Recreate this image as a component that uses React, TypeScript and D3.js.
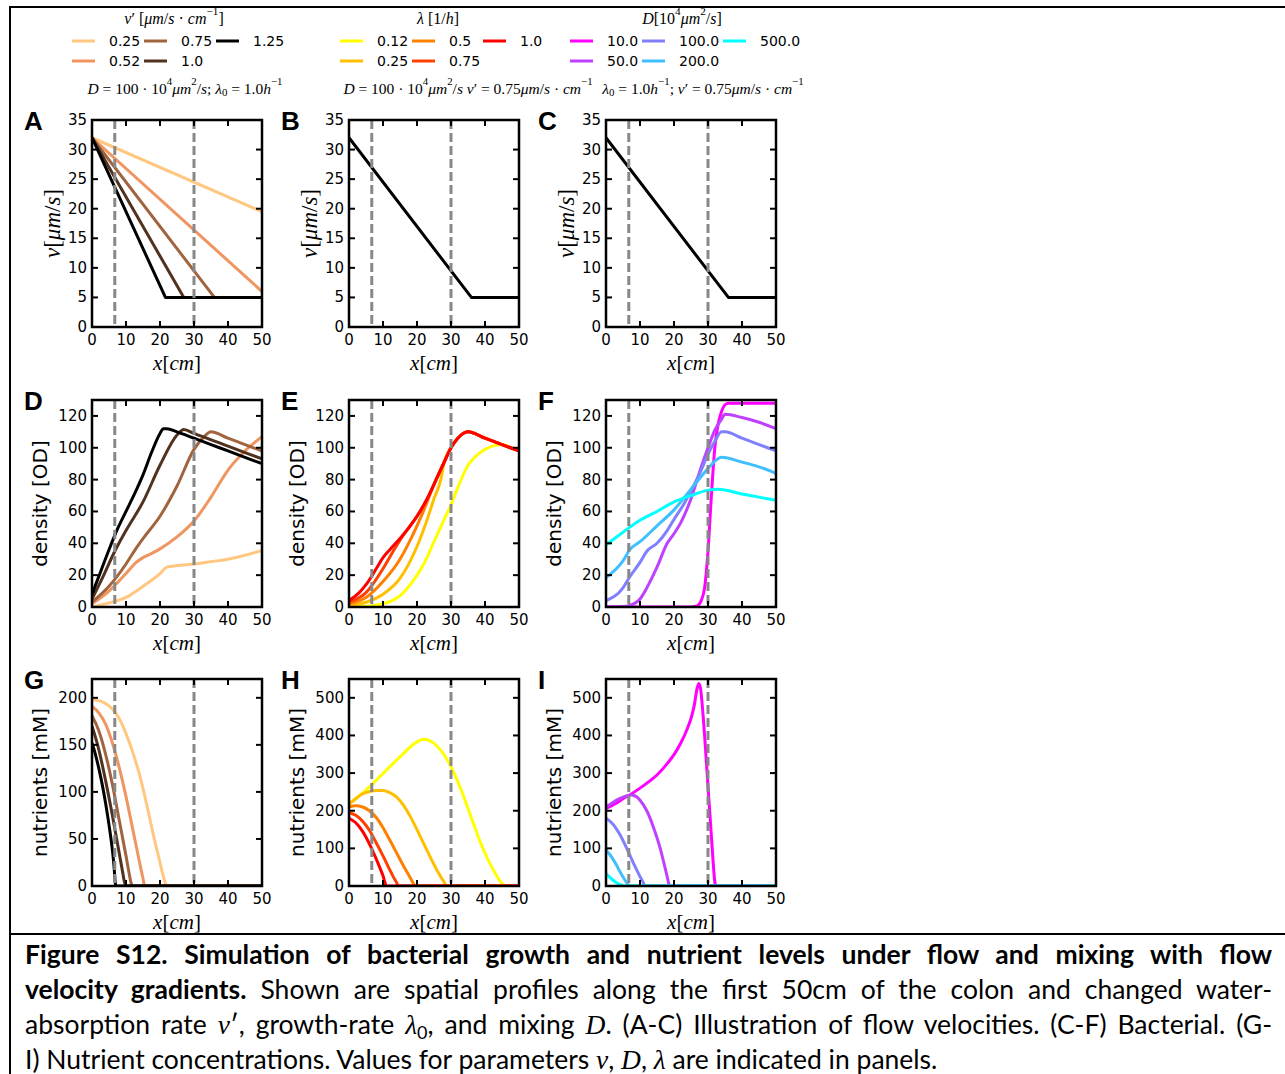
import React, { useLayoutEffect, useRef } from "react";
import * as d3 from "d3";

type Pt = [number, number];

// ---------- axis ticks ----------
const xTicks = [0, 10, 20, 30, 40, 50];
const markerX = [6.7, 30];
const velocityTicks = [0, 5, 10, 15, 20, 25, 30, 35];
const densityTicks = [0, 20, 40, 60, 80, 100, 120];
const nutrientTicksG = [0, 50, 100, 150, 200];
const nutrientTicksHI = [0, 100, 200, 300, 400, 500];

// ---------- legend categories ----------
const vPrimeLabels = ["0.25", "0.52", "0.75", "1.0", "1.25"];
const lambdaLabels = ["0.12", "0.25", "0.5", "0.75", "1.0"];
const mixingLabels = ["10.0", "50.0", "100.0", "200.0", "500.0"];

const vPrimeColors = ["#ffc77f", "#ef9560", "#a0643f", "#50321f", "#000000"];
const lambdaColors = ["#ffff00", "#ffbf00", "#ff8000", "#ff4000", "#ff0000"];
const mixingColors = ["#ff00ff", "#bf40ff", "#8080ff", "#40bfff", "#00ffff"];

// ---------- flow velocity v(x) ----------
const velocityA: Pt[][] = [
  [[0, 32], [50, 19.5]],
  [[0, 32], [50, 6]],
  [[0, 32], [36, 5], [50, 5]],
  [[0, 32], [27, 5], [50, 5]],
  [[0, 32], [21.6, 5], [50, 5]],
];
const velocityB: Pt[][] = [[[0, 32], [36, 5], [50, 5]]];
const velocityC: Pt[][] = [[[0, 32], [36, 5], [50, 5]]];

// ---------- bacterial density ----------
const densityD: Pt[][] = [
  [[0, 0], [5, 2.5], [10, 6], [15, 13], [20, 21], [22, 25], [25, 26], [30, 27], [35, 28.5], [40, 30], [45, 32.5], [50, 35.5]],
  [[0, 2], [5, 10], [10, 21], [13, 28], [15, 31], [17, 33], [20, 36.5], [25, 44], [30, 54], [35, 69], [40, 86], [45, 98], [50, 107]],
  [[0, 3], [5, 13], [10, 27], [13, 37], [15, 43], [20, 57], [25, 76], [30, 99], [33, 107], [35, 110], [40, 106], [45, 102], [50, 98]],
  [[0, 5], [3, 18], [6.7, 35], [10, 48], [15, 66], [20, 89], [25, 108], [27, 111.5], [30, 109], [40, 101], [50, 93]],
  [[0, 8], [2.5, 22], [5, 36], [7.5, 49], [10, 60], [12.5, 71], [15, 83], [17.5, 97], [20, 109], [21, 112], [22, 112], [25, 110], [30, 106], [35, 102], [40, 98], [45, 94], [50, 90]],
];
const densityE: Pt[][] = [
  [[0, 0], [5, 0.5], [10, 2], [15, 7], [20, 20], [22, 27], [25, 41], [28, 55], [30, 64], [32, 75], [35, 89], [38, 96], [40, 99], [43, 101.5], [45, 102], [48, 100], [50, 98.5]],
  [[0, 1], [5, 3], [10, 8], [15, 18], [20, 38], [23, 55], [25, 68], [27, 80], [28, 91], [30, 100], [32, 106], [34, 109.5], [35, 110], [40, 106], [45, 102], [50, 98]],
  [[0, 2], [5, 6], [10, 16], [15, 30], [18, 42], [20, 51], [23, 66], [25, 77], [28, 91], [30, 100], [32, 106], [34, 109.5], [35, 110], [40, 106], [45, 102], [50, 98]],
  [[0, 3], [5, 9], [10, 24], [13, 35], [15, 42], [18, 51], [20, 57], [23, 68], [25, 77], [28, 91], [30, 100], [32, 106], [34, 109.5], [35, 110], [40, 106], [45, 102], [50, 98]],
  [[0, 4], [3, 9], [5, 14], [8, 24], [10, 31], [12, 36], [15, 43], [18, 51], [20, 57], [23, 68], [25, 77], [28, 91], [30, 100], [32, 106], [34, 109.5], [35, 110], [40, 106], [45, 102], [50, 98]],
];
const densityF: Pt[][] = [
  [[0, 0], [10, 0], [20, 0], [25, 0], [26, 0.3], [27, 1], [28, 4], [29, 12], [30, 35], [31, 70], [32, 100], [33, 115], [34, 123], [35, 127], [36, 128], [40, 128], [50, 128]],
  [[0, 0], [5, 0.3], [7, 1], [10, 5], [12, 12], [15, 25], [18, 40], [20, 46], [22, 53], [25, 68], [28, 88], [30, 100], [32, 111], [34, 118], [35, 121], [40, 119], [45, 116], [50, 112]],
  [[0, 4], [5, 12], [7, 19], [10, 28], [12, 35], [15, 40], [18, 48], [20, 55], [23, 65], [25, 73], [28, 86], [30, 96], [32, 104], [34, 110], [35, 110], [40, 106], [45, 102], [50, 98]],
  [[0, 18.5], [5, 29], [7, 36], [10, 41], [15, 51], [20, 61], [25, 74], [28, 82], [30, 87], [34, 94], [40, 91], [45, 88], [50, 84]],
  [[0, 39], [5, 47], [10, 54.5], [15, 60], [20, 66], [25, 70], [30, 73.4], [33, 74], [40, 71], [45, 69], [50, 67]],
];

// ---------- nutrient concentration ----------
const nutrientsG: Pt[][] = [
  [[0, 198], [2, 197], [4, 194], [6, 188], [8, 178], [10, 162], [12, 142], [14, 118], [16, 88], [18, 55], [20, 25], [21, 10], [22, 0], [50, 0]],
  [[0, 191], [2, 184], [4, 172], [6, 152], [8, 126], [10, 95], [12, 60], [14, 25], [15, 8], [15.5, 0], [50, 0]],
  [[0, 181], [2, 165], [4, 140], [6, 108], [8, 70], [10, 32], [11, 12], [11.5, 3], [12, 0], [50, 0]],
  [[0, 170], [2, 145], [4, 112], [6, 75], [8, 35], [9, 15], [9.5, 5], [10, 0], [50, 0]],
  [[0, 152], [1, 140], [2, 125], [3, 108], [4, 88], [5, 65], [6, 38], [6.5, 20], [6.8, 5], [7, 0], [50, 0]],
];
const nutrientsH: Pt[][] = [
  [[0, 219], [5, 255], [10, 299], [15, 343], [20, 383], [22, 390], [25, 379], [28, 348], [30, 317], [33, 255], [35, 206], [38, 131], [40, 87], [43, 34], [45, 7], [46, 0], [50, 0]],
  [[0, 216], [2, 232], [4, 245], [6, 251], [8, 254], [10, 254], [12, 248], [14, 236], [16, 215], [18, 185], [20, 150], [22, 112], [24, 75], [26, 40], [28, 10], [28.7, 0], [50, 0]],
  [[0, 210], [2, 213], [4, 210], [6, 200], [8, 182], [10, 155], [12, 122], [14, 88], [16, 54], [18, 22], [19, 6], [19.4, 0], [50, 0]],
  [[0, 195], [2, 188], [4, 172], [6, 148], [8, 115], [10, 80], [12, 43], [13, 25], [14, 9], [14.5, 0], [50, 0]],
  [[0, 180], [2, 168], [4, 145], [6, 112], [8, 72], [9, 50], [10, 27], [10.5, 12], [11, 0], [50, 0]],
];
const nutrientsI: Pt[][] = [
  [[0, 206], [3, 220], [5, 232], [7, 242], [10, 260], [13, 280], [15, 295], [18, 325], [20, 349], [22, 380], [24, 420], [25, 445], [26, 482], [26.8, 525], [27.3, 538], [27.8, 525], [28.5, 460], [29, 400], [30, 265], [31, 132], [32, 12], [32.2, 0], [50, 0]],
  [[0, 210], [2, 222], [4, 232], [6, 239], [7.5, 242], [9, 237], [10, 228], [12, 200], [14, 155], [15, 128], [16, 98], [17, 62], [18, 25], [18.5, 5], [18.8, 0], [50, 0]],
  [[0, 180], [2, 165], [4, 138], [6, 102], [8, 62], [10, 25], [11, 8], [11.4, 0], [50, 0]],
  [[0, 95], [1, 85], [2, 72], [3, 57], [4, 40], [5, 24], [6, 10], [6.7, 2], [7, 0], [50, 0]],
  [[0, 33], [1, 24], [2, 16], [3, 9], [4, 4], [5, 1], [5.5, 0], [50, 0]],
];

// ---------- text helpers ----------
type Seg = { t: string; i?: boolean; b?: boolean; sup?: boolean; sub?: boolean };

function Segs({ segs, fs }: { segs: Seg[]; fs: number }) {
  let cur = 0;
  return (
    <>
      {segs.map((s, k) => {
        const target = s.sup ? -0.42 * fs : s.sub ? 0.25 * fs : 0;
        const dy = target - cur;
        cur = target;
        return (
          <tspan
            key={k}
            dy={dy}
            fontStyle={s.i ? "italic" : "normal"}
            fontWeight={s.b ? "bold" : "normal"}
            fontSize={s.sup || s.sub ? fs * 0.7 : fs}
          >
            {s.t}
          </tspan>
        );
      })}
    </>
  );
}

const MATH = "'Liberation Serif', 'DejaVu Serif', serif";
const SANS = "'DejaVu Sans', sans-serif";

const xLabelSegs: Seg[] = [{ t: "x", i: true }, { t: "[" }, { t: "cm", i: true }, { t: "]" }];
const vLabelSegs: Seg[] = [{ t: "v", i: true }, { t: "[" }, { t: "μm", i: true }, { t: "/" }, { t: "s", i: true }, { t: "]" }];

// ---------- panel ----------
const PW = 170;
const PH = 207;

type PanelProps = {
  id: string;
  left: number;
  top: number;
  letter: string;
  yMax: number;
  yTicks: number[];
  yLabel: "v" | "density" | "nutrients";
  series: Pt[][];
  colors: string[];
  smooth: boolean;
};

function Panel({ id, left, top, letter, yMax, yTicks, yLabel, series, colors, smooth }: PanelProps) {
  const x = d3.scaleLinear().domain([0, 50]).range([left, left + PW]);
  const y = d3.scaleLinear().domain([0, yMax]).range([top + PH, top]);
  const line = d3
    .line<Pt>()
    .x((d) => x(d[0]))
    .y((d) => y(d[1]))
    .curve(smooth ? d3.curveMonotoneX : d3.curveLinear);
  const bottom = top + PH;
  const right = left + PW;
  const tl = 6;
  const clipId = `clip-${id}`;
  return (
    <g>
      <defs>
        <clipPath id={clipId}>
          <rect x={left} y={top} width={PW} height={PH} />
        </clipPath>
      </defs>
      <g clipPath={`url(#${clipId})`}>
        {series.map((s, k) => (
          <path key={k} d={line(s) || ""} fill="none" stroke={colors[k]} strokeWidth={3} strokeLinejoin="round" />
        ))}
        {markerX.map((m) => (
          <line key={m} x1={x(m)} x2={x(m)} y1={top} y2={bottom} stroke="#888888" strokeWidth={3} strokeDasharray="9,4" />
        ))}
      </g>
      {/* ticks, inward on all four sides */}
      {xTicks.map((t) => (
        <g key={`xt${t}`}>
          <line x1={x(t)} x2={x(t)} y1={bottom} y2={bottom - tl} stroke="#000" strokeWidth={2} />
          <line x1={x(t)} x2={x(t)} y1={top} y2={top + tl} stroke="#000" strokeWidth={2} />
          <text x={x(t)} y={bottom + 13} textAnchor="middle" dominantBaseline="central" fontFamily={SANS} fontSize={15}>
            {t}
          </text>
        </g>
      ))}
      {yTicks.map((t) => (
        <g key={`yt${t}`}>
          <line x1={left} x2={left + tl} y1={y(t)} y2={y(t)} stroke="#000" strokeWidth={2} />
          <line x1={right} x2={right - tl} y1={y(t)} y2={y(t)} stroke="#000" strokeWidth={2} />
          <text x={left - 5} y={y(t)} textAnchor="end" dominantBaseline="central" fontFamily={SANS} fontSize={15}>
            {t}
          </text>
        </g>
      ))}
      <rect x={left} y={top} width={PW} height={PH} fill="none" stroke="#000" strokeWidth={2.5} />
      {/* axis labels */}
      <text x={(left + right) / 2} y={bottom + 43} textAnchor="middle" fontFamily={MATH} fontSize={21}>
        <Segs segs={xLabelSegs} fs={21} />
      </text>
      {yLabel === "v" ? (
        <text
          transform={`translate(${left - 40},${top + PH / 2}) rotate(-90)`}
          textAnchor="middle"
          dominantBaseline="central"
          fontFamily={MATH}
          fontSize={23}
        >
          <Segs segs={vLabelSegs} fs={23} />
        </text>
      ) : (
        <text
          transform={`translate(${left - 52},${top + PH / 2}) rotate(-90)`}
          textAnchor="middle"
          dominantBaseline="central"
          fontFamily={SANS}
          fontSize={20}
        >
          {yLabel === "density" ? "density [OD]" : "nutrients [mM]"}
        </text>
      )}
      <text x={left - 68} y={top + 10} fontFamily="'Liberation Sans', Arial, sans-serif" fontWeight="bold" fontSize={26}>
        {letter}
      </text>
    </g>
  );
}

// ---------- legends ----------
type LegendProps = {
  labels: string[];
  colors: string[];
  cols: number[];
  title: Seg[];
  titleX: number;
};

function Legend({ labels, colors, cols, title, titleX }: LegendProps) {
  const rows = [41, 61];
  return (
    <g>
      <text x={titleX} y={18} textAnchor="middle" dominantBaseline="central" fontFamily={MATH} fontSize={16}>
        <Segs segs={title} fs={16} />
      </text>
      {labels.map((lab, k) => {
        const cx = cols[Math.floor(k / 2)];
        const ry = rows[k % 2];
        return (
          <g key={lab}>
            <line x1={cx} x2={cx + 23} y1={ry} y2={ry} stroke={colors[k]} strokeWidth={3} />
            <text x={cx + 37} y={ry} dominantBaseline="central" fontFamily={SANS} fontSize={14}>
              {lab}
            </text>
          </g>
        );
      })}
    </g>
  );
}

const vPrimeTitle: Seg[] = [
  { t: "v", i: true }, { t: "′  [" }, { t: "μm", i: true }, { t: "/" }, { t: "s", i: true }, { t: " · " }, { t: "cm", i: true }, { t: "−1", sup: true }, { t: "]" },
];
const lambdaTitle: Seg[] = [{ t: "λ", i: true }, { t: "  [1/" }, { t: "h", i: true }, { t: "]" }];
const mixingTitle: Seg[] = [
  { t: "D", i: true }, { t: "[10" }, { t: "4", sup: true }, { t: "μm", i: true }, { t: "2", sup: true }, { t: "/" }, { t: "s", i: true }, { t: "]" },
];
const note1: Seg[] = [
  { t: "D", i: true }, { t: " = 100 · 10" }, { t: "4", sup: true }, { t: "μm", i: true }, { t: "2", sup: true }, { t: "/" }, { t: "s", i: true },
  { t: ";  " }, { t: "λ", i: true }, { t: "0", sub: true }, { t: " = 1.0" }, { t: "h", i: true }, { t: "−1", sup: true },
];
const note2: Seg[] = [
  { t: "D", i: true }, { t: " = 100 · 10" }, { t: "4", sup: true }, { t: "μm", i: true }, { t: "2", sup: true }, { t: "/" }, { t: "s", i: true },
  { t: " " }, { t: "v", i: true }, { t: "′ = 0.75" }, { t: "μm", i: true }, { t: "/" }, { t: "s", i: true }, { t: " · " }, { t: "cm", i: true }, { t: "−1", sup: true },
];
const note3: Seg[] = [
  { t: "λ", i: true }, { t: "0", sub: true }, { t: " = 1.0" }, { t: "h", i: true }, { t: "−1", sup: true }, { t: ";  " },
  { t: "v", i: true }, { t: "′ = 0.75" }, { t: "μm", i: true }, { t: "/" }, { t: "s", i: true }, { t: " · " }, { t: "cm", i: true }, { t: "−1", sup: true },
];

// ---------- caption ----------
const captionLines: Seg[][] = [
  [{ t: "Figure S12. Simulation of bacterial growth and nutrient levels under flow and mixing with flow", b: true }],
  [{ t: "velocity gradients.", b: true }, { t: " Shown are spatial profiles along the first 50cm of the colon and changed water-" }],
  [
    { t: "absorption rate " }, { t: "v", i: true }, { t: "′" }, { t: ", growth-rate " }, { t: "λ", i: true }, { t: "0", sub: true },
    { t: ", and mixing " }, { t: "D", i: true }, { t: ". (A-C) Illustration of flow velocities. (C-F) Bacterial. (G-" },
  ],
  [
    { t: "I) Nutrient concentrations. Values for parameters " }, { t: "v", i: true }, { t: ", " }, { t: "D", i: true }, { t: ", " },
    { t: "λ", i: true }, { t: " are indicated in panels." },
  ],
];

function Caption() {
  const refs = useRef<(SVGTextElement | null)[]>([]);
  const x0 = 25;
  const width = 1247;
  const fs = 26.5;
  const baselines = [964, 999, 1034, 1069];
  useLayoutEffect(() => {
    refs.current.forEach((el, k) => {
      if (!el || k === captionLines.length - 1) return;
      el.style.wordSpacing = "0px";
      const natural = el.getComputedTextLength();
      const spaces = (el.textContent || "").split(" ").length - 1;
      if (spaces > 0) el.style.wordSpacing = `${(width - natural) / spaces}px`;
    });
  }, []);
  return (
    <g>
      {captionLines.map((segs, k) => (
        <text
          key={k}
          ref={(el) => {
            refs.current[k] = el;
          }}
          x={x0}
          y={baselines[k]}
          fontFamily="Lato, 'Open Sans', sans-serif"
          fontSize={fs}
        >
          {segs.map((s, j) => (
            <tspan
              key={j}
              dy={s.sub ? 5 : j > 0 && segs[j - 1].sub ? -5 : 0}
              fontWeight={s.b ? "bold" : "normal"}
              fontStyle={s.i ? "italic" : "normal"}
              fontFamily={s.i ? MATH : undefined}
              fontSize={s.sub ? 18 : s.i ? fs + 1 : fs}
            >
              {s.t}
            </tspan>
          ))}
        </text>
      ))}
    </g>
  );
}

export default function App() {
  const lefts = [92, 349, 606];
  const tops = [120, 400, 679];
  return (
    <svg
      width={1285}
      height={1074}
      style={{ position: "absolute", left: 0, top: 0, background: "#fff" }}
    >
      <rect x={0} y={0} width={1285} height={1074} fill="#fff" />
      {/* frame lines */}
      <line x1={10} x2={1285} y1={7} y2={7} stroke="#000" strokeWidth={2} />
      <line x1={10} x2={10} y1={6} y2={1074} stroke="#000" strokeWidth={2} />
      <line x1={10} x2={1285} y1={934} y2={934} stroke="#000" strokeWidth={2} />

      <Legend labels={vPrimeLabels} colors={vPrimeColors} cols={[72, 144, 216]} title={vPrimeTitle} titleX={174} />
      <Legend labels={lambdaLabels} colors={lambdaColors} cols={[340, 412, 483]} title={lambdaTitle} titleX={438} />
      <Legend labels={mixingLabels} colors={mixingColors} cols={[570, 642, 723]} title={mixingTitle} titleX={682} />
      <text x={185} y={88} textAnchor="middle" dominantBaseline="central" fontFamily={MATH} fontSize={15.5}>
        <Segs segs={note1} fs={15.5} />
      </text>
      <text x={468} y={88} textAnchor="middle" dominantBaseline="central" fontFamily={MATH} fontSize={15.5}>
        <Segs segs={note2} fs={15.5} />
      </text>
      <text x={703} y={88} textAnchor="middle" dominantBaseline="central" fontFamily={MATH} fontSize={15.5}>
        <Segs segs={note3} fs={15.5} />
      </text>

      <Panel id="A" left={lefts[0]} top={tops[0]} letter="A" yMax={35} yTicks={velocityTicks} yLabel="v" series={velocityA} colors={vPrimeColors} smooth={false} />
      <Panel id="B" left={lefts[1]} top={tops[0]} letter="B" yMax={35} yTicks={velocityTicks} yLabel="v" series={velocityB} colors={["#000"]} smooth={false} />
      <Panel id="C" left={lefts[2]} top={tops[0]} letter="C" yMax={35} yTicks={velocityTicks} yLabel="v" series={velocityC} colors={["#000"]} smooth={false} />

      <Panel id="D" left={lefts[0]} top={tops[1]} letter="D" yMax={130} yTicks={densityTicks} yLabel="density" series={densityD} colors={vPrimeColors} smooth />
      <Panel id="E" left={lefts[1]} top={tops[1]} letter="E" yMax={130} yTicks={densityTicks} yLabel="density" series={densityE} colors={lambdaColors} smooth />
      <Panel id="F" left={lefts[2]} top={tops[1]} letter="F" yMax={130} yTicks={densityTicks} yLabel="density" series={densityF} colors={mixingColors} smooth />

      <Panel id="G" left={lefts[0]} top={tops[2]} letter="G" yMax={220} yTicks={nutrientTicksG} yLabel="nutrients" series={nutrientsG} colors={vPrimeColors} smooth />
      <Panel id="H" left={lefts[1]} top={tops[2]} letter="H" yMax={550} yTicks={nutrientTicksHI} yLabel="nutrients" series={nutrientsH} colors={lambdaColors} smooth />
      <Panel id="I" left={lefts[2]} top={tops[2]} letter="I" yMax={550} yTicks={nutrientTicksHI} yLabel="nutrients" series={nutrientsI} colors={mixingColors} smooth />

      <Caption />
    </svg>
  );
}
